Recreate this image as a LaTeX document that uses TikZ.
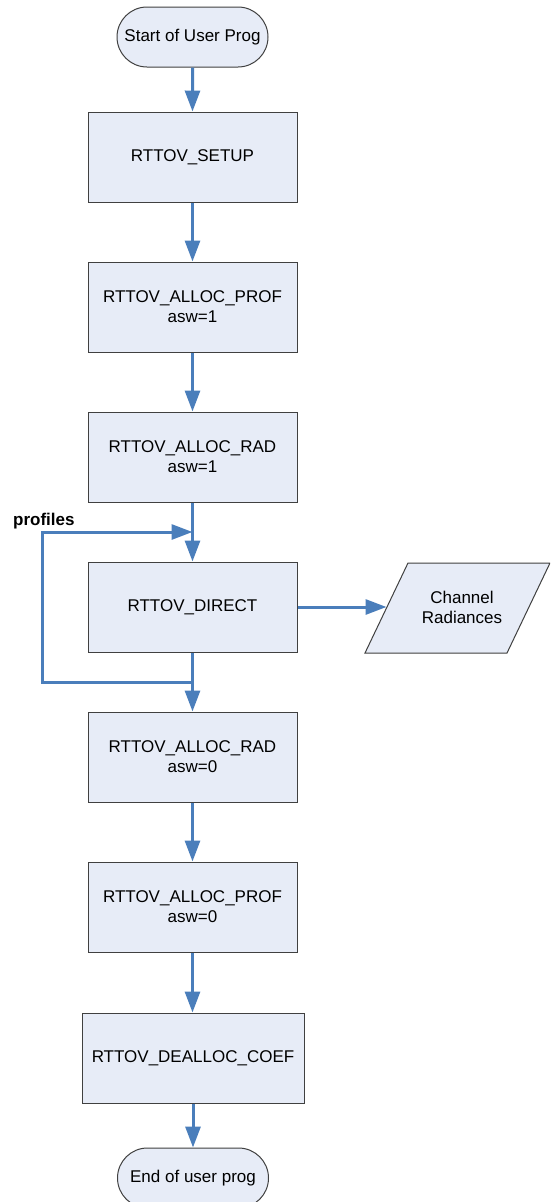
\documentclass[tikz,border=0pt]{standalone}
\usepackage{fontspec}
\setmainfont{Liberation Sans}
\usetikzlibrary{arrows.meta,shapes.misc}
\definecolor{boxfill}{HTML}{E7ECF7}
\definecolor{flowblue}{HTML}{4A7EBB}
\definecolor{edge}{HTML}{404040}
\tikzset{
  proc/.style={draw=edge, line width=1pt, fill=boxfill, minimum width=209pt, minimum height=90pt, inner sep=0pt, align=center, font=\fontsize{17pt}{20pt}\selectfont},
  term/.style={draw=edge, line width=1pt, fill=boxfill, rounded rectangle, minimum width=151pt, minimum height=60pt, inner sep=0pt, font=\fontsize{17pt}{20pt}\selectfont},
  flow/.style={draw=flowblue, line width=3pt, -{Triangle[length=21pt,width=15pt]}},
}
\begin{document}
\begin{tikzpicture}[x=1pt,y=-1pt]
\clip (0,0) rectangle (550,1202);
\fill[white] (0,0) rectangle (550,1202);
\node[term] (start) at (192.5,37) {Start of User Prog};
\node[proc] (setup) at (192.5,157) {RTTOV\_SETUP};
\node[proc] (aprof1) at (192.5,307) {RTTOV\_ALLOC\_PROF\\asw=1};
\node[proc] (arad1) at (192.5,457) {RTTOV\_ALLOC\_RAD\\asw=1};
\node[proc] (direct) at (192.5,607) {RTTOV\_DIRECT};
\node[proc] (arad0) at (192.5,757) {RTTOV\_ALLOC\_RAD\\asw=0};
\node[proc] (aprof0) at (192.5,907) {RTTOV\_ALLOC\_PROF\\asw=0};
\node[proc, minimum width=222pt] (dealloc) at (193,1058) {RTTOV\_DEALLOC\_COEF};
\node[term] (end) at (193,1178) {End of user prog};
% output parallelogram
\draw[draw=edge, line width=1pt, fill=boxfill] (408,563) -- (550,563) -- (507,653) -- (365,653) -- cycle;
\coordinate (outL) at (386.5,607);
\node[align=center, font=\fontsize{17pt}{20pt}\selectfont] (outtxt) at (462,607) {Channel\\Radiances};
% connectors
\draw[flow] (start) -- (setup);
\draw[flow] (setup) -- (aprof1);
\draw[flow] (aprof1) -- (arad1);
\draw[flow] (arad1) -- (direct);
\draw[flow] (direct) -- (arad0);
\draw[flow] (arad0) -- (aprof0);
\draw[flow] (aprof0.south) -- (dealloc.north -| aprof0.south);
\draw[flow] (dealloc) -- (end);
\draw[flow] (direct.east) -- (outL);
% loop
\coordinate (lj) at (192.5,682);
\coordinate (lc) at (42,682);
\coordinate (lt) at (192.5,532);
\draw[flow] (lj) -- (lc) |- (lt);
\node[anchor=base west, font=\bfseries\fontsize{17pt}{20pt}\selectfont, inner sep=0pt] (prof) at (13,525) {profiles};
\end{tikzpicture}
\end{document}
